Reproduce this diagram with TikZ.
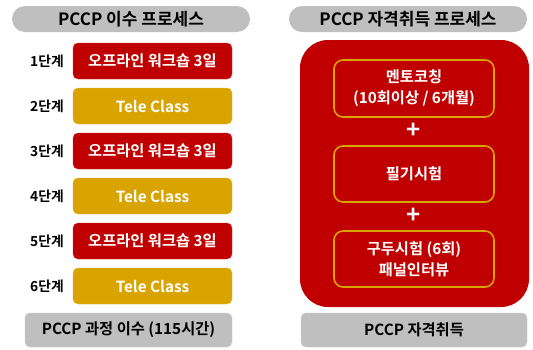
\documentclass[tikz,border=0pt]{standalone}
\usepackage{fontspec}
\setmainfont{Noto Sans CJK KR}[BoldFont={Noto Sans CJK KR Bold}]
\definecolor{cred}{HTML}{C00000}
\definecolor{cgold}{HTML}{D9A400}
\definecolor{cgray}{HTML}{BFBFBF}
\begin{document}
\begin{tikzpicture}[x=1pt,y=-1pt,
  every node/.style={font=\bfseries\fontsize{15.3}{21}\selectfont, inner sep=0pt},
  pill/.style={fill=cgray, rounded corners=13pt, minimum height=26pt, text=black, font=\bfseries\fontsize{17}{20}\selectfont},
  redstep/.style={fill=cred, draw=cred!80!white, rounded corners=5pt, minimum width=159pt, minimum height=36pt, text=white},
  goldstep/.style={fill=cgold, draw=cgold!80!white, rounded corners=5pt, minimum width=159pt, minimum height=36pt, text=white},
  steplabel/.style={text=black, font=\bfseries\fontsize{13.8}{16}\selectfont},
  bottombox/.style={fill=cgray, draw=cgray!80!white, rounded corners=5pt, minimum height=34pt, text=black},
  innerbox/.style={fill=cred, draw=cgold, line width=1.6pt, rounded corners=9pt, minimum width=160pt, text=white, align=center},
  plus/.style={text=white, font=\bfseries\fontsize{24}{24}\selectfont}
]
\useasboundingbox (0,0) rectangle (533,349);
% left column
\node[pill, minimum width=238pt] (lh) at (131,19) {PCCP 이수 프로세스};
\node[redstep] (s1) at (152.5,61) {오프라인 워크숍 3일};
\node[goldstep] (s2) at (152.5,106) {Tele Class};
\node[redstep] (s3) at (152.5,151) {오프라인 워크숍 3일};
\node[goldstep] (s4) at (152.5,196) {Tele Class};
\node[redstep] (s5) at (152.5,241) {오프라인 워크숍 3일};
\node[goldstep] (s6) at (152.5,286) {Tele Class};
\node[steplabel] (l1) at (47,61) {1단계};
\node[steplabel] (l2) at (47,106) {2단계};
\node[steplabel] (l3) at (47,151) {3단계};
\node[steplabel] (l4) at (47,196) {4단계};
\node[steplabel] (l5) at (47,241) {5단계};
\node[steplabel] (l6) at (47,286) {6단계};
\node[bottombox, minimum width=207pt] (lb) at (128.5,330) {PCCP 과정 이수 (115시간)};
% right column
\node[pill, minimum width=238pt] (rh) at (408,19) {PCCP 자격취득 프로세스};
\fill[cred, rounded corners=28pt] (300,40) rectangle (529,307);
\node[innerbox, minimum height=57pt] (b1) at (414,88.5) {멘토코칭\\(10회이상 / 6개월)};
\node[plus] (p1) at (414,131) {+};
\node[innerbox, minimum height=56pt] (b2) at (414,174) {필기시험};
\node[plus] (p2) at (414,216) {+};
\node[innerbox, minimum height=56pt] (b3) at (414,259) {구두시험 (6회)\\패널인터뷰};
\node[bottombox, minimum width=226pt] (rb) at (414,330) {PCCP 자격취득};
\end{tikzpicture}
\end{document}
